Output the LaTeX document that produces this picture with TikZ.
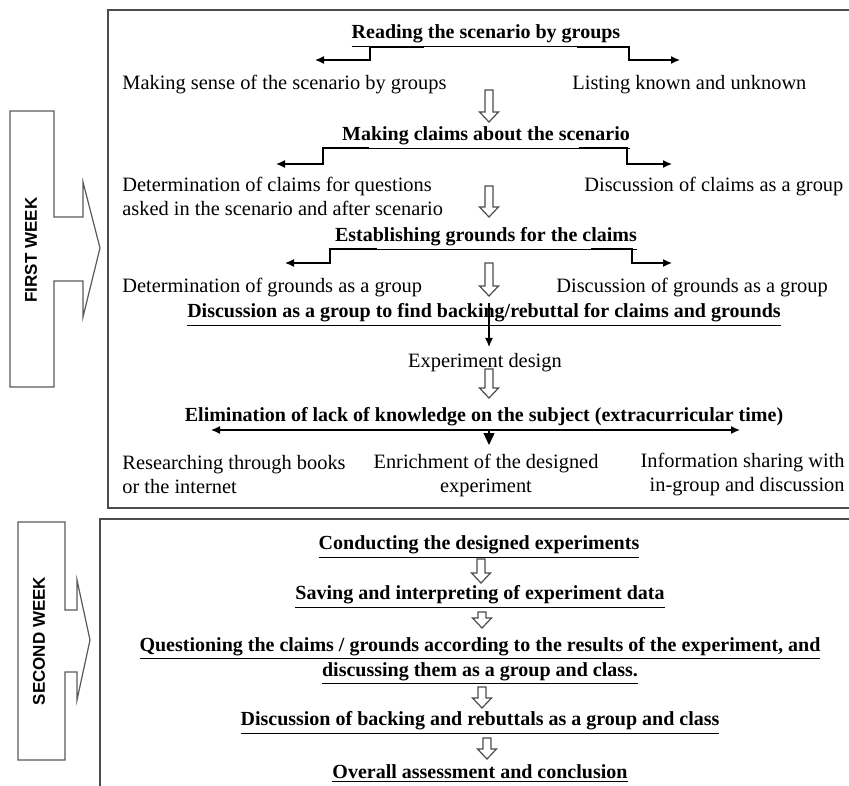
\documentclass[tikz,border=0pt]{standalone}
\usepackage{fontspec}
\setmainfont{Liberation Serif}
\newfontfamily\weekfont{Liberation Sans}
\usetikzlibrary{arrows.meta}
\newcommand\hollowarr[3]{%
  \draw[hollowline] ({#1-4},#2) -- ({#1-4},{#3-10}) -- ({#1-9.5},{#3-10}) -- (#1,#3)
    -- ({#1+9.5},{#3-10}) -- ({#1+4},{#3-10}) -- ({#1+4},#2) -- cycle;}
\begin{document}
\begin{tikzpicture}[x=0.5pt,y=-0.5pt,
  txt/.style={font=\fontsize{10.2}{12}\selectfont, inner sep=0pt, align=center},
  head/.style={font=\fontsize{10}{12.4}\selectfont\bfseries, inner sep=0pt, align=center, yshift=-2.5pt},
  hollowline/.style={draw=black!70, line width=0.6pt, fill=white},
  elbow/.style={draw=black, line width=0.65pt, -{Latex[length=4.5pt,width=4pt]}},
  boxline/.style={draw=black!70, line width=1pt},
  weekarrow/.style={draw=black!65, line width=0.6pt},
  weektxt/.style={font=\weekfont\fontsize{8.5}{10}\selectfont\bfseries, rotate=90, inner sep=0pt}]
\useasboundingbox (0,0) rectangle (849,785);

% week arrows
\draw[weekarrow] (10,111) -- (54,111) -- (54,217) -- (83,217) -- (83,182) -- (100,248)
  -- (83,317) -- (83,281) -- (54,281) -- (54,387) -- (10,387) -- cycle;
\node[weektxt] (w1) at (31,250) {FIRST WEEK};
\draw[weekarrow] (18,522) -- (65,522) -- (65,610) -- (77,610) -- (77,580) -- (90,640)
  -- (77,700) -- (77,672) -- (65,672) -- (65,760) -- (18,760) -- cycle;
\node[weektxt] (w2) at (39,641) {SECOND WEEK};

% boxes
\draw[boxline] (851,10) -- (108,10) -- (108,508) -- (851,508);
\draw[boxline] (851,519) -- (100,519) -- (100,787);

% first week content
\node[head] (n1) at (486,31) {\underline{Reading the scenario by groups}};
\node[txt, anchor=west] (n1a) at (122,85) {Making sense of the scenario by groups};
\node[txt, anchor=west] (n1b) at (572,85) {Listing known and unknown};
\coordinate (e1ls) at (424,47); \coordinate (e1lt) at (315,60);
\coordinate (e1rs) at (577,47); \coordinate (e1rt) at (680,60);
\draw[elbow] (e1ls) -- (370,47) -- (370,60) -- (e1lt);
\draw[elbow] (e1rs) -- (629,47) -- (629,60) -- (e1rt);
\hollowarr{489}{90}{122}

\node[head] (n2) at (486,133) {\underline{Making claims about the scenario}};
\node[txt, anchor=west, align=left] (n2a) at (122,196) {Determination of claims for questions\\asked in the scenario and after scenario};
\node[txt, anchor=west] (n2b) at (584,187) {Discussion of claims as a group};
\coordinate (e2ls) at (369,148); \coordinate (e2lt) at (276,164);
\coordinate (e2rs) at (579,148); \coordinate (e2rt) at (672,164);
\draw[elbow] (e2ls) -- (323,148) -- (323,164) -- (e2lt);
\draw[elbow] (e2rs) -- (627,148) -- (627,164) -- (e2rt);
\hollowarr{489}{186}{217}

\node[head] (n3) at (486,234) {\underline{Establishing grounds for the claims}};
\node[txt, anchor=west] (n3a) at (122,288) {Determination of grounds as a group};
\node[txt, anchor=west] (n3b) at (556,288) {Discussion of grounds as a group};
\coordinate (e3ls) at (377,249); \coordinate (e3lt) at (285,263);
\coordinate (e3rs) at (591,249); \coordinate (e3rt) at (672,263);
\draw[elbow] (e3ls) -- (330,249) -- (330,263) -- (e3lt);
\draw[elbow] (e3rs) -- (632,249) -- (632,263) -- (e3rt);
\hollowarr{489}{263}{296}

\node[head] (n4) at (484,310) {\underline{Discussion as a group to find backing/rebuttal for claims and grounds}};
\node[txt] (n5) at (485,363) {Experiment design};
\coordinate (a4s) at (489,303); \coordinate (a4t) at (489,347);
\draw[elbow] (a4s) -- (a4t);
\hollowarr{489}{369}{398}

\node[head] (n6) at (484,412) {Elimination of lack of knowledge on the subject (extracurricular time)};
\coordinate (dl) at (211,430); \coordinate (dr) at (740,430);
\draw[draw=black, line width=0.65pt, {Latex[length=4.5pt,width=4pt]}-{Latex[length=4.5pt,width=4pt]}] (dl) -- (dr);
\coordinate (dm) at (489,430); \coordinate (dmt) at (489,445);
\draw[draw=black, line width=0.65pt, -{Triangle[length=6pt,width=5.5pt]}] (dm) -- (dmt);

\node[txt, anchor=west, align=left] (n7a) at (122,475) {Researching through books\\or the internet};
\node[txt] (n7b) at (486,475) {Enrichment of the designed\\experiment};
\node[txt, anchor=east, align=right] (n7c) at (845,475) {Information sharing with\\in-group and discussion};

% second week content
\node[head] (m1) at (479,542) {\underline{Conducting the designed experiments}};
\hollowarr{481}{559}{583}
\node[head] (m2) at (480,592) {\underline{Saving and interpreting of experiment data}};
\hollowarr{482}{612}{628}
\node[head] (m3) at (480,656) {\underline{Questioning the claims / grounds according to the results of the experiment, and}\\\underline{discussing them as a group and class.}};
\hollowarr{482}{687}{708}
\node[head] (m4) at (480,718) {\underline{Discussion of backing and rebuttals as a group and class}};
\hollowarr{487}{738}{759}
\node[head] (m5) at (480,769) {\underline{Overall assessment and conclusion}};
\end{tikzpicture}
\end{document}
